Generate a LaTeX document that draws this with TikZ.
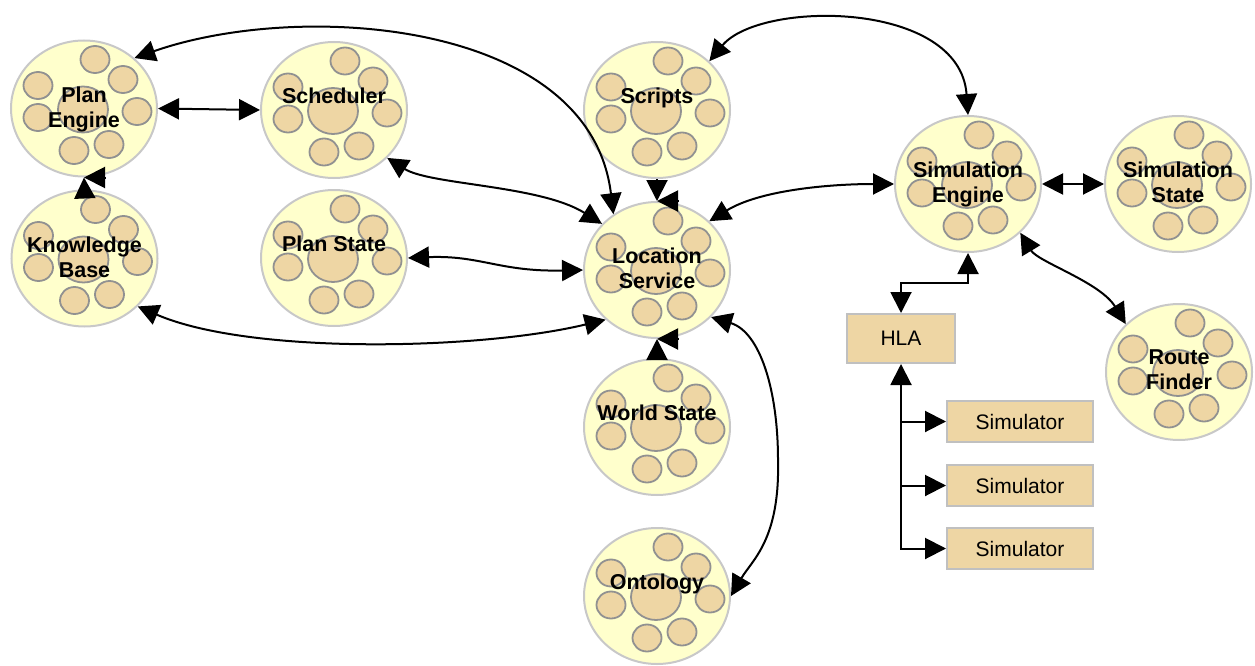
\documentclass[tikz,border=0pt]{standalone}
\usepackage{fontspec}
\setmainfont{Liberation Sans}
\usetikzlibrary{arrows.meta,shapes.geometric}
\definecolor{bubfill}{RGB}{255,255,204}
\definecolor{bubdraw}{RGB}{200,200,200}
\definecolor{tanc}{RGB}{238,214,164}
\definecolor{tandraw}{RGB}{145,145,145}
\definecolor{boxdraw}{RGB}{192,192,192}
\tikzset{
  bigtri/.tip={Triangle[length=21pt,width=21pt]},
  bubble/.style={ellipse, draw=bubdraw, fill=bubfill, line width=2pt, minimum width=146pt, minimum height=136pt, inner sep=0pt},
  innerc/.style={draw=tandraw, fill=tanc, line width=1.8pt},
  bublabel/.style={anchor=north, inner sep=0pt, align=center, font=\fontsize{21.5}{25}\selectfont\bfseries},
  simbox/.style={rectangle, draw=boxdraw, fill=tanc, line width=2pt, minimum width=146pt, minimum height=41pt, inner sep=0pt, font=\fontsize{21}{24}\selectfont},
  conn/.style={line width=2pt, draw=black},
}
\newcommand{\bub}[4]{%
  \node[bubble] (#1) at (#2,#3) {};
  \foreach \dx/\dy in {11/-49,39/-29,53/3,25/36,-10/42,-46/9,-46/-23}
    {\draw[innerc] ([shift={(\dx,\dy)}]#1.center) ellipse [x radius=14.5pt, y radius=13.5pt];}
  \draw[innerc] ([shift={(-1,1)}]#1.center) ellipse [x radius=25pt, y radius=23pt];
  \node[bublabel] at ([shift={(0,-22)}]#1.center) {#4};
}
\begin{document}
\begin{tikzpicture}[x=1pt,y=-1pt]
\useasboundingbox (0,0) rectangle (1255,666);
\bub{pe}{84}{108.5}{Plan\\Engine}
\bub{sch}{334}{110}{Scheduler}
\bub{kb}{84.5}{258.5}{Knowledge\\Base}
\bub{ps}{334}{258}{Plan State}
\bub{scr}{657}{110}{Scripts}
\bub{ls}{657}{270}{Location\\Service}
\bub{ws}{657}{427}{World State}
\bub{onto}{657}{596}{Ontology}
\bub{se}{968}{184}{Simulation\\Engine}
\bub{ss}{1178}{184}{Simulation\\State}
\bub{rf}{1179}{372}{Route\\Finder}
\node[simbox, minimum width=108pt, minimum height=49pt] (hla) at (901,338.5) {HLA};
\node[simbox] (sim1) at (1020,421.5) {Simulator};
\node[simbox] (sim2) at (1020,485.5) {Simulator};
\node[simbox] (sim3) at (1020,548.5) {Simulator};
% connectors
\draw[conn, bigtri-bigtri] (pe.east) -- (sch.west);
\draw[conn, bigtri-bigtri] (pe.45) .. controls (300,0) and (590,20) .. (ls.128);
\draw[conn, -bigtri] (kb.north) -- (pe.south);
\coordinate (peL) at ([xshift=21pt]pe.south);
\draw[conn, -bigtri] (peL) -- (pe.south);
\draw[conn, bigtri-bigtri] (sch.-42) .. controls (430,185) and (540,185) .. (ls.140);
\draw[conn, bigtri-bigtri] (ps.east) .. controls (480,255) and (500,272) .. (ls.west);
\draw[conn, bigtri-bigtri] (kb.-42) .. controls (250,355) and (480,350) .. (ls.224);
\draw[conn, -bigtri] (scr.south) -- (ls.north);
\coordinate (lsNL) at ([xshift=21pt]ls.north);
\draw[conn, -bigtri] (lsNL) -- (ls.north);
\draw[conn, -bigtri] (ws.north) -- (ls.south);
\coordinate (lsSL) at ([xshift=21pt]ls.south);
\draw[conn, -bigtri] (lsSL) -- (ls.south);
\draw[conn, bigtri-bigtri] (ls.-41) .. controls (760,332) and (778,390) .. (778,460) .. controls (780,540) and (752,560) .. (onto.east);
\draw[conn, bigtri-bigtri] (scr.43) .. controls (760,0) and (960,0) .. (se.north);
\draw[conn, bigtri-bigtri] (ls.43) .. controls (760,190) and (830,184) .. (se.west);
\draw[conn, bigtri-bigtri] (se.east) -- (ss.west);
\draw[conn, bigtri-bigtri] (se.-43) .. controls (1038,262) and (1100,282) .. (rf.138);
\draw[conn, bigtri-bigtri] (hla.north) -- ++(0,-30) -| (se.south);
\draw[conn, bigtri-bigtri] (hla.south) |- (sim3.west);
\draw[conn, -bigtri] (hla.south |- sim1.west) -- (sim1.west);
\draw[conn, -bigtri] (hla.south |- sim2.west) -- (sim2.west);
\end{tikzpicture}
\end{document}
